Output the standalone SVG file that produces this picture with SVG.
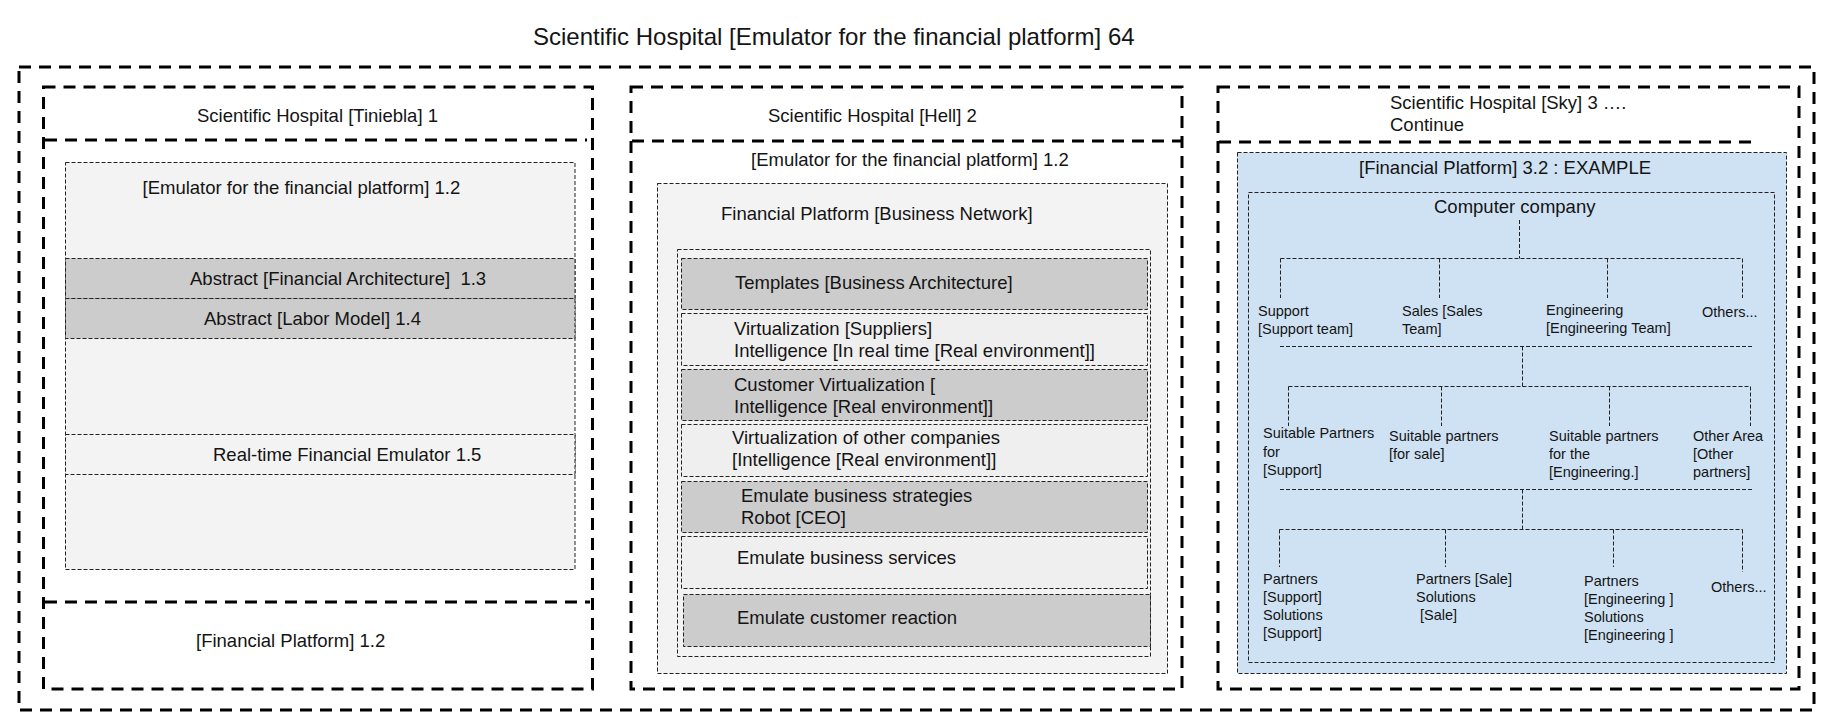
<svg xmlns="http://www.w3.org/2000/svg" width="1830" height="724" viewBox="0 0 1830 724">
<style>
text{font-family:"Liberation Sans",Arial,sans-serif;fill:#141414;white-space:pre}
.t24{font-size:24px}
.t18{font-size:18.5px}
.t14{font-size:14.5px}
.thick{fill:none;stroke:#000;stroke-width:3;stroke-dasharray:12 8}
.thin{stroke:#222;stroke-width:1;stroke-dasharray:4 2}
.lg{fill:#f3f3f3}
.lg2{fill:#efefef}
.dg{fill:#cccccc}
.bl{fill:#cfe2f3}
.none{fill:none}
.conn{fill:none;stroke:#222;stroke-width:1;stroke-dasharray:4 2}
</style>
<rect width="1830" height="724" fill="#fff"/>
<text class="t24" x="533" y="45">Scientific Hospital [Emulator for the financial platform] 64</text>
<g id="outer">
<rect class="thick" x="19" y="67" width="1795" height="643"/>
</g>
<g id="col1">
<rect class="thick" x="43.5" y="87" width="549" height="602"/>
<line class="thick" x1="45" y1="140" x2="587" y2="140"/>
<text class="t18" x="197" y="122">Scientific Hospital [Tiniebla] 1</text>
<g id="col1-emulator">
<rect class="lg thin" x="65.5" y="162.5" width="509.5" height="407"/>
<text class="t18" x="142.5" y="194">[Emulator for the financial platform] 1.2</text>
</g>
<g id="col1-r13">
<rect class="dg thin" x="65.5" y="258.5" width="509.5" height="40"/>
<text class="t18" x="190" y="285" xml:space="preserve">Abstract [Financial Architecture]  1.3</text>
</g>
<g id="col1-r14">
<rect class="dg thin" x="65.5" y="298.5" width="509.5" height="40"/>
<text class="t18" x="204" y="325">Abstract [Labor Model] 1.4</text>
</g>
<g id="col1-r15">
<rect class="lg thin" x="65.5" y="434.5" width="509.5" height="40"/>
<text class="t18" x="213" y="461">Real-time Financial Emulator 1.5</text>
</g>
<line class="thick" x1="45" y1="602" x2="590" y2="602"/>
<g id="col1-footer">
<text class="t18" x="196" y="647">[Financial Platform] 1.2</text>
</g>
</g>
<g id="col2">
<rect class="thick" x="631" y="87" width="551" height="602"/>
<line class="thick" x1="632" y1="141" x2="1182" y2="141"/>
<text class="t18" x="768" y="122">Scientific Hospital [Hell] 2</text>
<text class="t18" x="751" y="166">[Emulator for the financial platform] 1.2</text>
<g id="col2-platform">
<rect class="lg thin" x="657.5" y="183.5" width="510" height="490"/>
<text class="t18" x="721" y="220">Financial Platform [Business Network]</text>
<rect class="lg thin" x="677.5" y="249.5" width="473" height="407"/>
</g>
<g id="col2-templates">
<rect class="dg thin" x="681.5" y="258.5" width="466" height="51"/>
<text class="t18" x="735" y="289">Templates [Business Architecture]</text>
</g>
<g id="col2-suppliers">
<rect class="lg2 thin" x="681.5" y="313.5" width="466" height="52"/>
<text class="t18" x="734" y="335">Virtualization [Suppliers]</text>
<text class="t18" x="734" y="357">Intelligence [In real time [Real environment]]</text>
</g>
<g id="col2-customer">
<rect class="dg thin" x="681.5" y="369.5" width="466" height="51"/>
<text class="t18" x="734" y="391">Customer Virtualization [</text>
<text class="t18" x="734" y="413">Intelligence [Real environment]]</text>
</g>
<g id="col2-others">
<rect class="lg2 thin" x="681.5" y="424.5" width="466" height="52"/>
<text class="t18" x="732" y="444">Virtualization of other companies</text>
<text class="t18" x="732" y="466">[Intelligence [Real environment]]</text>
</g>
<g id="col2-strategies">
<rect class="dg thin" x="681.5" y="481.5" width="466" height="51"/>
<text class="t18" x="741" y="502">Emulate business strategies</text>
<text class="t18" x="741" y="524">Robot [CEO]</text>
</g>
<g id="col2-services">
<rect class="lg2 thin" x="681.5" y="536.5" width="466" height="52"/>
<text class="t18" x="737" y="564">Emulate business services</text>
</g>
<g id="col2-reaction">
<rect class="dg thin" x="683.5" y="594.5" width="467" height="52"/>
<text class="t18" x="737" y="624">Emulate customer reaction</text>
</g>
</g>
<g id="col3">
<rect class="thick" x="1218" y="87" width="581" height="602"/>
<line class="thick" x1="1219" y1="142" x2="1758" y2="142"/>
<text class="t18" x="1390" y="109">Scientific Hospital [Sky] 3 ….</text>
<text class="t18" x="1390" y="131">Continue</text>
<g id="col3-platform">
<rect class="bl thin" x="1237.5" y="152.5" width="549" height="521"/>
<text class="t18" x="1359" y="174">[Financial Platform] 3.2 : EXAMPLE</text>
<rect class="none thin" x="1248.5" y="192.5" width="526" height="470"/>
</g>
<g id="n-company"><text class="t18" x="1434" y="213">Computer company</text></g>
<g id="n-support"><text class="t14" x="1258" y="316">Support</text><text class="t14" x="1258" y="334">[Support team]</text></g>
<g id="n-sales"><text class="t14" x="1402" y="316">Sales [Sales</text><text class="t14" x="1402" y="334">Team]</text></g>
<g id="n-engineering"><text class="t14" x="1546" y="315">Engineering</text><text class="t14" x="1546" y="333">[Engineering Team]</text></g>
<g id="n-others1"><text class="t14" x="1702" y="317">Others...</text></g>
<g id="n-sp-support"><text class="t14" x="1263" y="438">Suitable Partners</text><text class="t14" x="1263" y="457">for</text><text class="t14" x="1263" y="475">[Support]</text></g>
<g id="n-sp-sale"><text class="t14" x="1389" y="441">Suitable partners</text><text class="t14" x="1389" y="459">[for sale]</text></g>
<g id="n-sp-eng"><text class="t14" x="1549" y="441">Suitable partners</text><text class="t14" x="1549" y="459">for the</text><text class="t14" x="1549" y="477">[Engineering.]</text></g>
<g id="n-other-area"><text class="t14" x="1693" y="441">Other Area</text><text class="t14" x="1693" y="459">[Other</text><text class="t14" x="1693" y="477">partners]</text></g>
<g id="n-p-support"><text class="t14" x="1263" y="584">Partners</text><text class="t14" x="1263" y="602">[Support]</text><text class="t14" x="1263" y="620">Solutions</text><text class="t14" x="1263" y="638">[Support]</text></g>
<g id="n-p-sale"><text class="t14" x="1416" y="584">Partners [Sale]</text><text class="t14" x="1416" y="602">Solutions</text><text class="t14" x="1416" y="620" xml:space="preserve"> [Sale]</text></g>
<g id="n-p-eng"><text class="t14" x="1584" y="586">Partners</text><text class="t14" x="1584" y="604">[Engineering ]</text><text class="t14" x="1584" y="622">Solutions</text><text class="t14" x="1584" y="640">[Engineering ]</text></g>
<g id="n-others2"><text class="t14" x="1711" y="592">Others...</text></g>
</g>
<g id="connectors">
<path class="conn" d="M1519.5 220V258.5M1280.5 258.5H1742.5M1280.5 258.5V298M1439.5 258.5V298M1607.5 258.5V298M1742.5 258.5V298"/>
<path class="conn" d="M1280 346.5H1752M1522.5 346.5V386.5M1288.5 386.5H1750.5M1288.5 386.5V426M1441.5 386.5V426M1609.5 386.5V426M1750.5 386.5V426"/>
<path class="conn" d="M1280 489.5H1752M1522.5 489.5V529.5M1279.5 529.5H1742.5M1279.5 529.5V567M1445.5 529.5V567M1613.5 529.5V567M1742.5 529.5V572"/>
</g>
</svg>
